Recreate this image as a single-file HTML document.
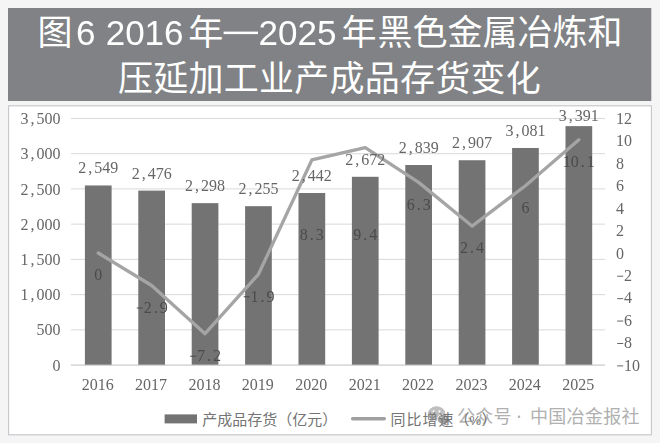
<!DOCTYPE html>
<html lang="zh"><head><meta charset="utf-8"><title>chart</title>
<style>
html,body{margin:0;padding:0;background:#f5f5f5;font-family:"Liberation Sans",sans-serif;}
body{width:660px;height:443px;overflow:hidden;}
svg{display:block;}
</style></head><body>
<svg width="660" height="443" viewBox="0 0 660 443" role="img" aria-label="图6 2016年—2025年黑色金属冶炼和压延加工业产成品存货变化">
<title>图6 2016年—2025年黑色金属冶炼和压延加工业产成品存货变化</title>
<desc>产成品存货（亿元）；同比增速（%）；公众号 · 中国冶金报社</desc>
<rect width="660" height="443" fill="#f5f5f5"/>
<rect x="8" y="8" width="643.3" height="93" fill="#808285"/>
<rect x="8.6" y="105.8" width="642.8" height="329" fill="#ffffff" stroke="#c5c5ca" stroke-width="1.1"/>
<g font-family="'Liberation Sans', 'Noto Sans CJK SC', sans-serif" font-size="35" fill="#ffffff">
<text x="37.5" y="44.5">图</text>
<text x="188.2" y="44.5">年</text>
<text x="341.5" y="44.5">年</text>
<text x="377.5" y="44.5">黑色金属冶炼和</text>
<text x="118" y="90.6" letter-spacing="0.25">压延加工业产成品存货变化</text>
</g>
<rect x="223.6" y="31.6" width="34.4" height="2.5" fill="#ffffff"/>
<g font-family="Liberation Sans, sans-serif" font-size="35" fill="#ffffff" style="filter:grayscale(1)">
<text x="76.0" y="44.5">6</text>
<text x="105.7" y="44.5">2016</text>
<text x="258.5" y="44.5">2025</text>
</g>
<line x1="71.0" y1="118.45" x2="605.0" y2="118.45" stroke="#d9d9d9" stroke-width="1"/>
<line x1="71.0" y1="153.69" x2="605.0" y2="153.69" stroke="#d9d9d9" stroke-width="1"/>
<line x1="71.0" y1="188.92" x2="605.0" y2="188.92" stroke="#d9d9d9" stroke-width="1"/>
<line x1="71.0" y1="224.16" x2="605.0" y2="224.16" stroke="#d9d9d9" stroke-width="1"/>
<line x1="71.0" y1="259.39" x2="605.0" y2="259.39" stroke="#d9d9d9" stroke-width="1"/>
<line x1="71.0" y1="294.63" x2="605.0" y2="294.63" stroke="#d9d9d9" stroke-width="1"/>
<line x1="71.0" y1="329.86" x2="605.0" y2="329.86" stroke="#d9d9d9" stroke-width="1"/>
<line x1="71.0" y1="365.10" x2="605.0" y2="365.10" stroke="#d9d9d9" stroke-width="1"/>
<rect x="84.90" y="185.47" width="26.70" height="179.63" fill="#737373"/>
<rect x="138.30" y="190.61" width="26.70" height="174.49" fill="#737373"/>
<rect x="191.70" y="203.16" width="26.70" height="161.94" fill="#737373"/>
<rect x="245.10" y="206.19" width="26.70" height="158.91" fill="#737373"/>
<rect x="298.50" y="193.01" width="26.70" height="172.09" fill="#737373"/>
<rect x="351.90" y="176.80" width="26.70" height="188.30" fill="#737373"/>
<rect x="405.30" y="165.03" width="26.70" height="200.07" fill="#737373"/>
<rect x="458.70" y="160.24" width="26.70" height="204.86" fill="#737373"/>
<rect x="512.10" y="147.98" width="26.70" height="217.12" fill="#737373"/>
<rect x="565.50" y="126.13" width="26.70" height="238.97" fill="#737373"/>
<line x1="71.0" y1="365.10" x2="605.0" y2="365.10" stroke="#d0d0d0" stroke-width="1"/>
<polyline points="98.25,252.99 151.65,285.50 205.05,333.71 258.45,274.29 311.85,159.93 365.25,147.60 418.65,182.35 472.05,226.08 525.45,185.72 578.85,139.75" fill="none" stroke="#a5a5a5" stroke-width="3.3" stroke-linejoin="round" stroke-linecap="round"/>
<g font-family="Liberation Serif, serif" font-size="16" style="filter:grayscale(1)">
<text x="24.50 32.50 40.50 48.50 56.50" y="124.05" fill="#666666" text-anchor="middle">3,500</text>
<text x="24.50 32.50 40.50 48.50 56.50" y="159.29" fill="#666666" text-anchor="middle">3,000</text>
<text x="24.50 32.50 40.50 48.50 56.50" y="194.52" fill="#666666" text-anchor="middle">2,500</text>
<text x="24.50 32.50 40.50 48.50 56.50" y="229.76" fill="#666666" text-anchor="middle">2,000</text>
<text x="24.50 32.50 40.50 48.50 56.50" y="264.99" fill="#666666" text-anchor="middle">1,500</text>
<text x="24.50 32.50 40.50 48.50 56.50" y="300.23" fill="#666666" text-anchor="middle">1,000</text>
<text x="40.50 48.50 56.50" y="335.46" fill="#666666" text-anchor="middle">500</text>
<text x="56.50" y="370.70" fill="#666666" text-anchor="middle">0</text>
<text x="620.00 628.00" y="124.05" fill="#666666" text-anchor="middle">12</text>
<text x="620.00 628.00" y="146.47" fill="#666666" text-anchor="middle">10</text>
<text x="620.00" y="168.90" fill="#666666" text-anchor="middle">8</text>
<text x="620.00" y="191.32" fill="#666666" text-anchor="middle">6</text>
<text x="620.00" y="213.74" fill="#666666" text-anchor="middle">4</text>
<text x="620.00" y="236.16" fill="#666666" text-anchor="middle">2</text>
<text x="620.00" y="258.59" fill="#666666" text-anchor="middle">0</text>
<rect x="617.20" y="275.71" width="6" height="1" fill="#666666"/><text x="628.00" y="281.01" fill="#666666" text-anchor="middle">2</text>
<rect x="617.20" y="298.13" width="6" height="1" fill="#666666"/><text x="628.00" y="303.43" fill="#666666" text-anchor="middle">4</text>
<rect x="617.20" y="320.55" width="6" height="1" fill="#666666"/><text x="628.00" y="325.85" fill="#666666" text-anchor="middle">6</text>
<rect x="617.20" y="342.98" width="6" height="1" fill="#666666"/><text x="628.00" y="348.28" fill="#666666" text-anchor="middle">8</text>
<rect x="617.20" y="365.40" width="6" height="1" fill="#666666"/><text x="628.00 636.00" y="370.70" fill="#666666" text-anchor="middle">10</text>
<text x="85.65 93.65 101.65 109.65" y="390.00" fill="#666666" text-anchor="middle">2016</text>
<text x="139.05 147.05 155.05 163.05" y="390.00" fill="#666666" text-anchor="middle">2017</text>
<text x="192.45 200.45 208.45 216.45" y="390.00" fill="#666666" text-anchor="middle">2018</text>
<text x="245.85 253.85 261.85 269.85" y="390.00" fill="#666666" text-anchor="middle">2019</text>
<text x="299.25 307.25 315.25 323.25" y="390.00" fill="#666666" text-anchor="middle">2020</text>
<text x="352.65 360.65 368.65 376.65" y="390.00" fill="#666666" text-anchor="middle">2021</text>
<text x="406.05 414.05 422.05 430.05" y="390.00" fill="#666666" text-anchor="middle">2022</text>
<text x="459.45 467.45 475.45 483.45" y="390.00" fill="#666666" text-anchor="middle">2023</text>
<text x="512.85 520.85 528.85 536.85" y="390.00" fill="#666666" text-anchor="middle">2024</text>
<text x="566.25 574.25 582.25 590.25" y="390.00" fill="#666666" text-anchor="middle">2025</text>
<text x="82.25 90.25 98.25 106.25 114.25" y="173.47" fill="#666666" text-anchor="middle">2,549</text>
<text x="135.65 143.65 151.65 159.65 167.65" y="178.61" fill="#666666" text-anchor="middle">2,476</text>
<text x="189.05 197.05 205.05 213.05 221.05" y="191.16" fill="#666666" text-anchor="middle">2,298</text>
<text x="242.45 250.45 258.45 266.45 274.45" y="194.19" fill="#666666" text-anchor="middle">2,255</text>
<text x="295.85 303.85 311.85 319.85 327.85" y="181.01" fill="#666666" text-anchor="middle">2,442</text>
<text x="349.25 357.25 365.25 373.25 381.25" y="164.80" fill="#666666" text-anchor="middle">2,672</text>
<text x="402.65 410.65 418.65 426.65 434.65" y="153.03" fill="#666666" text-anchor="middle">2,839</text>
<text x="456.05 464.05 472.05 480.05 488.05" y="148.24" fill="#666666" text-anchor="middle">2,907</text>
<text x="509.45 517.45 525.45 533.45 541.45" y="135.98" fill="#666666" text-anchor="middle">3,081</text>
<text x="562.85 570.85 578.85 586.85 594.85" y="120.50" fill="#666666" text-anchor="middle">3,391</text>
<text x="98.25" y="280.29" fill="#4a4a4a" text-anchor="middle">0</text>
<rect x="136.85" y="307.50" width="6" height="1" fill="#4a4a4a"/><text x="147.65 155.65 163.65" y="312.80" fill="#4a4a4a" text-anchor="middle">2.9</text>
<rect x="190.25" y="355.71" width="6" height="1" fill="#4a4a4a"/><text x="201.05 209.05 217.05" y="361.01" fill="#4a4a4a" text-anchor="middle">7.2</text>
<rect x="243.65" y="296.29" width="6" height="1" fill="#4a4a4a"/><text x="254.45 262.45 270.45" y="301.59" fill="#4a4a4a" text-anchor="middle">1.9</text>
<text x="303.85 311.85 319.85" y="240.40" fill="#4a4a4a" text-anchor="middle">8.3</text>
<text x="357.25 365.25 373.25" y="240.40" fill="#4a4a4a" text-anchor="middle">9.4</text>
<text x="410.65 418.65 426.65" y="209.65" fill="#4a4a4a" text-anchor="middle">6.3</text>
<text x="464.05 472.05 480.05" y="253.38" fill="#4a4a4a" text-anchor="middle">2.4</text>
<text x="525.45" y="213.02" fill="#4a4a4a" text-anchor="middle">6</text>
<text x="566.85 574.85 582.85 590.85" y="167.05" fill="#4a4a4a" text-anchor="middle">10.1</text>
</g>
<rect x="164.6" y="414.4" width="32.4" height="9" fill="#737373"/>
<line x1="352.6" y1="418.7" x2="384.3" y2="418.7" stroke="#a0a0a0" stroke-width="3.4" stroke-linecap="round"/>
<g opacity="0.85">
<ellipse cx="436.6" cy="413.6" rx="8.7" ry="7.3" fill="#b4b4b4"/>
<path d="M430.5 418.5 L429.3 422.6 L434 420.3 Z" fill="#b4b4b4"/>
<ellipse cx="443.2" cy="419.3" rx="5.8" ry="5" fill="#8f8f8f" stroke="#ffffff" stroke-width="0.8"/>
<path d="M446 423.3 L447.8 425.8 L443.8 424.4 Z" fill="#8f8f8f"/>
<circle cx="433.6" cy="411.4" r="1.05" fill="#fff"/><circle cx="439.5" cy="411.4" r="1.05" fill="#fff"/>
<circle cx="441.3" cy="418" r="0.8" fill="#fff"/><circle cx="445.2" cy="418" r="0.8" fill="#fff"/>
</g>
<circle cx="519.0" cy="416.8" r="1.25" fill="#b0b0b0"/>
<g font-family="'Liberation Sans', 'Noto Sans CJK SC', sans-serif" font-size="18" fill="#b0b0b0">
<text x="457" y="423.4" letter-spacing="0.2">公众号</text>
<text x="530" y="423.4" letter-spacing="0.3">中国冶金报社</text>
</g>
<g font-family="'Liberation Sans', 'Noto Sans CJK SC', sans-serif" font-size="15" fill="#747474">
<text x="202.3" y="424.5">产成品存货（亿元）</text>
<text y="424.5"><tspan x="390.5 406.5 422.5 438.5 454.5">同比增速（</tspan><tspan x="469.5" font-size="13">%</tspan><tspan x="481.5">）</tspan></text>
</g>
</svg>
</body></html>
